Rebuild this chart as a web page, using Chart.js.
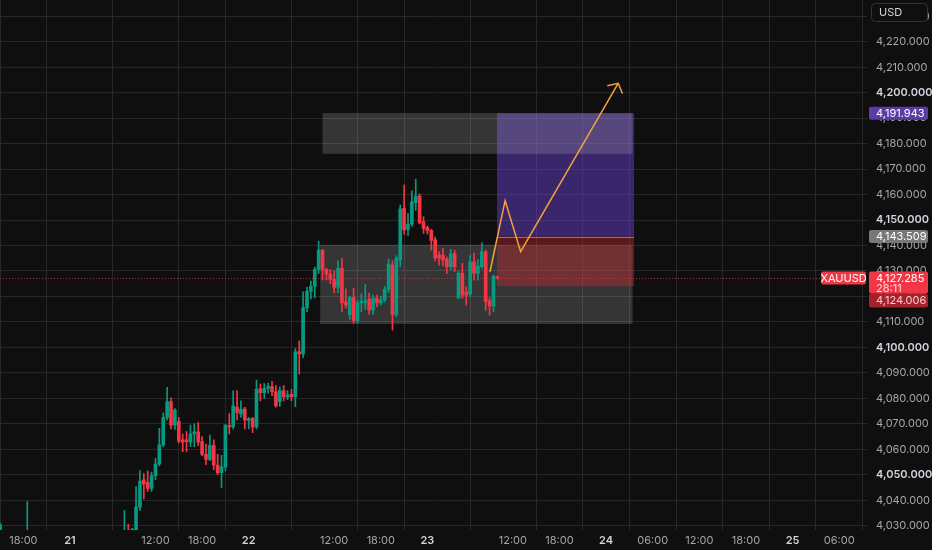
<!DOCTYPE html>
<html>
<head>
<meta charset="utf-8">
<title>XAUUSD</title>
<script src="https://cdn.jsdelivr.net/npm/chart.js@4.4.1/dist/chart.umd.min.js"></script>
<style>
  html, body { margin: 0; padding: 0; background: #0f0f0f; }
  #wrap { width: 932px; height: 550px; }
</style>
</head>
<body>
<div id="wrap"><canvas id="goldChart" width="932" height="550"></canvas></div>
<script>
// 30 minute bars, bar 0 = the 21st 00:00
const bars = [-18, -11, 14, 15, 16, 17, 18, 19, 20, 21, 22, 23, 24, 25, 26, 27, 28, 29, 30, 31, 32, 33, 34, 35, 36, 37, 38, 39, 40,
  41, 42, 43, 44, 45, 46, 47, 48, 49, 50, 51, 52, 53, 54, 55, 56, 57, 58, 59, 60, 61, 62, 63, 64, 65, 66, 67, 68, 69, 70,
  71, 72, 73, 74, 75, 76, 77, 78, 79, 80, 81, 82, 83, 84, 85, 86, 87, 88, 89, 90, 91, 92, 93, 94, 95, 96, 97, 98, 99, 100,
  101, 102, 103, 104, 105, 106, 107, 108, 109, 110]
const opens = [4021, 4015, 4018, 4026, 4027, 4027.5, 4037.3, 4048, 4047, 4044.6, 4049.6, 4054.2, 4061.7, 4072.5, 4078.7, 4069.5, 4071, 4063.7, 4063.7, 4062.8, 4066, 4066.8, 4063, 4058, 4056, 4061.5, 4053.8, 4050.8, 4053,
  4069.3, 4068.8, 4076.5, 4073.8, 4075.8, 4071.3, 4072.1, 4068.8, 4083.8, 4082.2, 4083.9, 4084.6, 4082.6, 4078.7, 4083, 4080.5, 4081.6, 4080.6, 4098.3, 4097.4, 4115.5, 4122, 4124, 4130.6, 4138.2, 4130.6, 4128.7, 4126.7, 4123.6, 4131,
  4117.9, 4112.9, 4119.6, 4110.5, 4117.5, 4117.7, 4118.9, 4114.7, 4119.3, 4117.5, 4118.6, 4122.8, 4132.3, 4112.9, 4134.3, 4154.6, 4146.3, 4148.4, 4156.8, 4159.4, 4149.3, 4147.1, 4146, 4142.3, 4136.3, 4136.3, 4134.6, 4131.7, 4136.9, 4119.3,
  4129.1, 4121.8, 4120.9, 4133.6, 4129.1, 4131.7, 4137.5, 4118.3, 4116.2, 4127.7]
const highs = [4031, 4039.5, 4036, 4030.5, 4029, 4045.3, 4051.6, 4050.5, 4051.5, 4051, 4056.4, 4068.2, 4074.3, 4084.3, 4080.2, 4076, 4072.5, 4066, 4067, 4069.5, 4070, 4070.5, 4065, 4062, 4065.6, 4063.7, 4058, 4057.6, 4069.7,
  4074, 4083, 4083, 4079, 4076.5, 4072.5, 4072.5, 4087.2, 4085.6, 4085.8, 4086, 4086.7, 4085, 4084.5, 4085, 4083, 4083.5, 4099.5, 4102.5, 4121.8, 4123.6, 4126, 4131.5, 4141.7, 4138.5, 4131, 4130.5, 4130, 4134, 4135,
  4123, 4120, 4123.2, 4118.5, 4121, 4124.7, 4121.3, 4120.5, 4120.5, 4120, 4124, 4134.6, 4134, 4136, 4155.9, 4163.7, 4152.6, 4161.5, 4166, 4160.3, 4151.3, 4147.7, 4146.3, 4143.3, 4137.5, 4139, 4135.5, 4138.5, 4138.1, 4129.8,
  4133, 4123.8, 4136, 4137, 4134.5, 4141.1, 4138.2, 4119.5, 4128.4, 4128]
const lows = [4018, 4012, 4015, 4018, 4025, 4026, 4036, 4040.5, 4043.5, 4043.5, 4048, 4053.5, 4061, 4071.5, 4068, 4067.8, 4062.5, 4059, 4059, 4061, 4061, 4061.5, 4057.5, 4054, 4055.5, 4052, 4050, 4045, 4051.5,
  4066, 4068, 4071.5, 4072.5, 4068, 4068, 4066.5, 4068, 4079, 4080, 4082, 4081, 4076.5, 4076.8, 4079, 4079.5, 4079, 4076.7, 4089.5, 4096, 4114, 4119, 4119.5, 4129, 4126.5, 4126.5, 4125, 4121.5, 4121.5, 4114,
  4115.5, 4111, 4109.4, 4109.5, 4114, 4115, 4113, 4113, 4116, 4116.6, 4117.8, 4121.5, 4106.8, 4112, 4131.7, 4144.5, 4144, 4147.5, 4153.8, 4148.5, 4144.8, 4144.5, 4138.2, 4134, 4132.3, 4132, 4129, 4130.5, 4129.7, 4119.3,
  4119.3, 4116.6, 4120, 4126.4, 4126.5, 4131, 4114.6, 4112.7, 4114, 4126.8]
const closes = [4030.4, 4022, 4024, 4020, 4028.6, 4037.3, 4047.5, 4046.3, 4044.6, 4049.6, 4054.2, 4061.7, 4072.5, 4078.7, 4069.5, 4075.4, 4063.2, 4062.8, 4063, 4066, 4066.8, 4062.8, 4058, 4056, 4061.5, 4053.8, 4050.8, 4053.1, 4069.5,
  4068.8, 4077, 4074.4, 4075.7, 4071.5, 4072, 4068.7, 4083.6, 4082.2, 4083.9, 4084.6, 4082.6, 4077, 4083, 4080.6, 4081.3, 4080.6, 4098.3, 4097.4, 4115.6, 4122, 4124, 4130.6, 4138.2, 4130.6, 4128.7, 4126.7, 4123.6, 4131, 4117.5,
  4116.6, 4119.6, 4110.5, 4117.5, 4118.2, 4118.3, 4114.7, 4119.3, 4117.5, 4118.6, 4122.8, 4132.7, 4112.9, 4135, 4154.4, 4146.1, 4148.4, 4157.2, 4159.4, 4148.9, 4146.7, 4145.8, 4142, 4135.2, 4135, 4134.3, 4131.7, 4136.7, 4131.7, 4129.1,
  4120.5, 4120.5, 4133.6, 4129.1, 4131.9, 4137.5, 4117.9, 4116.2, 4128, 4127.285]

const tickPos = [-12, 0, 22, 34, 46, 68, 80, 92, 114, 126, 138, 150, 162, 174, 186, 198]
const tickLabels = ['18:00', '21', '12:00', '18:00', '22', '12:00', '18:00', '23', '12:00', '18:00', '24', '06:00', '12:00', '18:00', '25', '06:00']

// grey zones drawn on the chart (first one sits above the position tool)
const zoneFrom = [65, 64.4]
const zoneTo = [144.8, 144.8]
const zoneTop = [4192, 4140.3]
const zoneBottom = [4176, 4109.2]

// long position tool
const posFrom = 109.9, posTo = 145.2
const entry = 4143.509, target = 4191.943, stop = 4124.006
const lastPrice = 4127.285

// projected path
const pathX = [108.1, 112.0, 116.0, 141.1]
const pathY = [4129.7, 4157.6, 4137.6, 4203.7]
const headX = [138.3, 141.1, 142.2]
const headY = [4202.7, 4203.7, 4199.7]

const up = '#089981', down = '#f23645'
const grid = '#282828'
Chart.defaults.font.family = 'Inter'

const fmt = v => v.toLocaleString('en-US', { minimumFractionDigits: 3, maximumFractionDigits: 3 })
const candleColor = c => closes[c.dataIndex] >= opens[c.dataIndex] ? up : down

function tag(ctx, x0, y0, w, h, bg) {
    ctx.fillStyle = bg
    ctx.beginPath()
    ctx.roundRect(x0, y0, w, h, 2)
    ctx.fill()
}

function zone(ctx, x, y, i) {
    const zx0 = x.getPixelForValue(zoneFrom[i]), zx1 = x.getPixelForValue(zoneTo[i])
    const zy0 = y.getPixelForValue(zoneTop[i]), zy1 = y.getPixelForValue(zoneBottom[i])
    ctx.fillStyle = 'rgba(200,200,200,0.21)'
    ctx.fillRect(zx0, zy0, zx1 - zx0, zy1 - zy0)
}

const drawings = {
    id: 'drawings',
    beforeDatasetsDraw(chart) {
        const { ctx, chartArea: a, scales: { x, y } } = chart
        ctx.save()
        ctx.beginPath()
        ctx.rect(a.left, a.top, a.right - a.left, a.bottom - a.top)
        ctx.clip()

        zone(ctx, x, y, 1)

        const p0 = x.getPixelForValue(posFrom), p1 = x.getPixelForValue(posTo)
        const yT = y.getPixelForValue(target), yE = y.getPixelForValue(entry), yS = y.getPixelForValue(stop)
        ctx.fillStyle = 'rgba(100,62,200,0.5)'
        ctx.fillRect(p0, yT, p1 - p0, yE - yT)
        ctx.fillStyle = 'rgba(200,40,50,0.4)'
        ctx.fillRect(p0, yE, p1 - p0, yS - yE)

        zone(ctx, x, y, 0)

        ctx.strokeStyle = '#7d7d7d'
        ctx.lineWidth = 1
        ctx.beginPath()
        ctx.moveTo(p0, Math.round(yE) + 0.5)
        ctx.lineTo(p1, Math.round(yE) + 0.5)
        ctx.stroke()

        const yL = Math.round(y.getPixelForValue(lastPrice)) + 0.5
        ctx.strokeStyle = 'rgba(242,54,69,0.7)'
        ctx.setLineDash([1, 2])
        ctx.beginPath()
        ctx.moveTo(a.left, yL)
        ctx.lineTo(a.right, yL)
        ctx.stroke()
        ctx.restore()
    },
    afterDraw(chart) {
        const { ctx, chartArea: a, scales: { y } } = chart
        const ax = a.right
        ctx.save()
        ctx.font = '11px Inter'
        ctx.textBaseline = 'middle'

        // currency box
        ctx.fillStyle = '#0f0f0f'
        ctx.strokeStyle = '#333'
        ctx.beginPath()
        ctx.roundRect(ax + 4.5, 3.5, 56, 18, 4)
        ctx.fill()
        ctx.stroke()
        ctx.fillStyle = '#d1d4dc'
        ctx.fillText('USD', ax + 12, 13)

        const yT = y.getPixelForValue(target)
        tag(ctx, ax + 2, yT - 6.5, 59, 13, '#5b3ca6')
        ctx.fillStyle = '#ffffff'
        ctx.fillText(fmt(target), ax + 9, yT + 0.5)

        const yE = y.getPixelForValue(entry)
        tag(ctx, ax + 2, yE - 6.5, 59, 13, '#787878')
        ctx.fillStyle = '#ffffff'
        ctx.fillText(fmt(entry), ax + 9, yE + 0.5)

        const yL = y.getPixelForValue(lastPrice)
        tag(ctx, ax + 2, yL + 15.5, 59, 14, '#a3222e')
        ctx.fillStyle = '#ffc9cd'
        ctx.fillText(fmt(stop), ax + 9, yL + 22.5)

        tag(ctx, ax + 2, yL - 6.5, 59, 22, down)
        ctx.fillStyle = '#ffffff'
        ctx.fillText(fmt(lastPrice), ax + 9, yL + 0.5)
        ctx.fillStyle = '#ffd6d9'
        ctx.fillText('28:11', ax + 9, yL + 10.5)

        tag(ctx, ax - 46, yL - 6.5, 45, 13, down)
        ctx.fillStyle = '#ffffff'
        ctx.textAlign = 'center'
        ctx.fillText('XAUUSD', ax - 23.5, yL + 0.5)
        ctx.restore()
    }
}

const ctx = document.getElementById('goldChart').getContext('2d')
const goldChart = new Chart(ctx, {
    type: 'bar',
    data: {
        datasets: [
            {
                data: bars.map((b, i) => ({ x: b, y: [lows[i], highs[i]] })),
                backgroundColor: candleColor,
                barThickness: 1,
                grouped: false,
                order: 2
            },
            {
                data: bars.map((b, i) => ({ x: b, y: [opens[i], closes[i]] })),
                backgroundColor: candleColor,
                barThickness: 3,
                minBarLength: 1,
                grouped: false,
                order: 1
            },
            {
                type: 'line',
                data: pathX.map((v, i) => ({ x: v, y: pathY[i] })),
                borderColor: '#f7a13e',
                borderWidth: 1.5,
                pointRadius: 0,
                tension: 0,
                order: 0
            },
            {
                type: 'line',
                data: headX.map((v, i) => ({ x: v, y: headY[i] })),
                borderColor: '#f7a13e',
                borderWidth: 1.5,
                pointRadius: 0,
                tension: 0,
                order: 0
            }
        ]
    },
    options: {
        responsive: false,
        animation: false,
        layout: { padding: 0 },
        plugins: {
            legend: { display: false },
            tooltip: { enabled: false }
        },
        scales: {
            x: {
                type: 'linear',
                min: -18.02,
                max: 205.15,
                offset: false,
                grid: { color: grid, drawTicks: false },
                border: { display: false },
                afterBuildTicks: s => { s.ticks = tickPos.map(v => ({ value: v })) },
                afterFit: s => { s.height = 20; s.paddingLeft = 0; s.paddingRight = 0 },
                ticks: {
                    autoSkip: false,
                    maxRotation: 0,
                    padding: 4,
                    callback: v => tickLabels[tickPos.indexOf(v)],
                    color: c => tickLabels[c.index] && tickLabels[c.index].includes(':') ? '#a3a6af' : '#d1d4dc',
                    font: c => ({ size: 11, weight: tickLabels[c.index] && tickLabels[c.index].includes(':') ? '400' : '600' })
                }
            },
            y: {
                position: 'right',
                min: 4028.3,
                max: 4236.4,
                grid: { color: grid, drawTicks: false },
                border: { display: false },
                afterFit: s => { s.width = 65; s.paddingTop = 0; s.paddingBottom = 0 },
                ticks: {
                    stepSize: 10,
                    includeBounds: false,
                    padding: 9,
                    callback: v => fmt(v),
                    color: c => c.tick && c.tick.value % 50 === 0 ? '#d1d4dc' : '#a3a6af',
                    font: c => ({ size: 11, weight: c.tick && c.tick.value % 50 === 0 ? '600' : '400' })
                }
            }
        }
    },
    plugins: [drawings]
})
</script>
</body>
</html>
